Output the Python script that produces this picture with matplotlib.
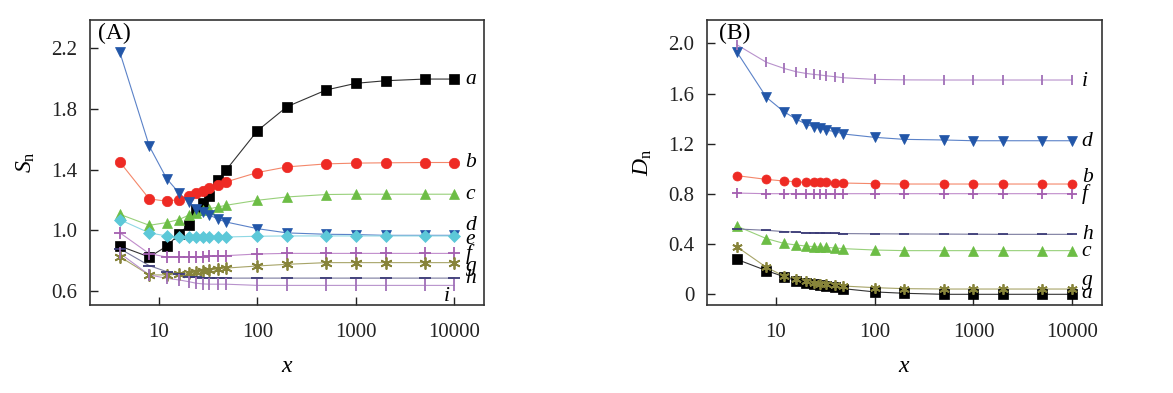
import matplotlib
matplotlib.use("Agg")
import matplotlib.pyplot as plt
from matplotlib.ticker import FixedLocator, FixedFormatter, NullLocator

plt.rcParams['font.family'] = ['Liberation Serif', 'DejaVu Serif']
plt.rcParams['mathtext.fontset'] = 'custom'
plt.rcParams['mathtext.rm'] = 'Liberation Serif'
plt.rcParams['mathtext.it'] = 'Liberation Serif:italic'

x = [4, 8, 12, 16, 20, 24, 28, 32, 40, 48, 100, 200, 500, 1000, 2000, 5000, 10000]

# panel A: S_n
sa = [0.897, 0.824, 0.895, 0.974, 1.038, 1.137, 1.181, 1.225, 1.330, 1.396, 1.656, 1.815, 1.925, 1.969, 1.986, 1.997, 1.997]
sb = [1.452, 1.207, 1.192, 1.203, 1.227, 1.247, 1.262, 1.280, 1.302, 1.319, 1.381, 1.418, 1.438, 1.443, 1.445, 1.447, 1.447]
sc = [1.106, 1.033, 1.051, 1.071, 1.099, 1.117, 1.132, 1.141, 1.154, 1.165, 1.198, 1.220, 1.236, 1.238, 1.238, 1.238, 1.238]
sd = [2.178, 1.555, 1.341, 1.247, 1.187, 1.143, 1.121, 1.104, 1.073, 1.055, 1.011, 0.983, 0.974, 0.972, 0.967, 0.967, 0.967]
se = [1.071, 0.983, 0.963, 0.956, 0.956, 0.956, 0.956, 0.956, 0.956, 0.956, 0.961, 0.963, 0.963, 0.963, 0.963, 0.963, 0.963]
sf = [0.985, 0.846, 0.824, 0.824, 0.824, 0.826, 0.827, 0.828, 0.831, 0.833, 0.844, 0.848, 0.848, 0.848, 0.848, 0.848, 0.848]
sg = [0.827, 0.706, 0.706, 0.710, 0.716, 0.725, 0.732, 0.736, 0.745, 0.751, 0.765, 0.776, 0.787, 0.787, 0.787, 0.787, 0.787]
sh = [0.880, 0.767, 0.728, 0.711, 0.695, 0.690, 0.688, 0.687, 0.686, 0.685, 0.685, 0.685, 0.685, 0.685, 0.685, 0.685, 0.685]
si = [0.850, 0.706, 0.684, 0.673, 0.662, 0.651, 0.647, 0.645, 0.645, 0.645, 0.637, 0.637, 0.637, 0.637, 0.637, 0.637, 0.637]

# panel B: D_n
da = [0.279, 0.189, 0.141, 0.109, 0.093, 0.082, 0.074, 0.069, 0.056, 0.045, 0.019, 0.008, 0.0, 0.0, 0.0, 0.0, 0.0]
db = [0.946, 0.916, 0.903, 0.898, 0.892, 0.892, 0.892, 0.892, 0.887, 0.887, 0.882, 0.879, 0.879, 0.879, 0.879, 0.879, 0.879]
dc = [0.544, 0.444, 0.406, 0.393, 0.385, 0.380, 0.377, 0.374, 0.369, 0.364, 0.353, 0.348, 0.348, 0.348, 0.348, 0.348, 0.348]
dd = [1.934, 1.570, 1.456, 1.397, 1.357, 1.336, 1.323, 1.309, 1.296, 1.278, 1.251, 1.235, 1.230, 1.224, 1.224, 1.224, 1.224]
df = [0.807, 0.802, 0.802, 0.802, 0.802, 0.802, 0.802, 0.802, 0.802, 0.802, 0.802, 0.802, 0.802, 0.802, 0.802, 0.802, 0.802]
dg = [0.380, 0.215, 0.146, 0.120, 0.104, 0.093, 0.085, 0.080, 0.072, 0.066, 0.053, 0.045, 0.042, 0.042, 0.042, 0.042, 0.042]
dh = [0.521, 0.510, 0.500, 0.495, 0.490, 0.490, 0.488, 0.487, 0.485, 0.484, 0.482, 0.481, 0.480, 0.479, 0.478, 0.478, 0.478]
di = [1.990, 1.849, 1.801, 1.774, 1.761, 1.753, 1.748, 1.742, 1.734, 1.726, 1.713, 1.709, 1.708, 1.708, 1.708, 1.708, 1.708]

# marker, marker colour, line colour
styles = {
    'a': ('s', '#000000', '#333333'),
    'b': ('o', '#ee2a24', '#f4876a'),
    'c': ('^', '#6cbd45', '#98d07a'),
    'd': ('v', '#2256a8', '#5b82c8'),
    'e': ('D', '#5cc8d8', '#8fd8e4'),
    'f': ('+', '#a45fb0', '#c08ccb'),
    'g': ((6, 2, 0), '#87843a', '#a7a468'),
    'h': ('_', '#3c3c78', '#7a7a9e'),
    'i': ('|', '#a070b8', '#b892cc'),
}
thin = ('+', '_', '|')

series_a = {'a': sa, 'b': sb, 'c': sc, 'd': sd, 'e': se, 'f': sf, 'g': sg, 'h': sh, 'i': si}
series_b = {'a': da, 'b': db, 'c': dc, 'd': dd, 'f': df, 'g': dg, 'h': dh, 'i': di}

# label positions (x, y)
labels_a = {'a': (13000, 1.997), 'b': (13000, 1.447), 'c': (13000, 1.238), 'd': (13000, 1.03),
            'e': (13000, 0.94), 'f': (13000, 0.845), 'g': (13000, 0.76), 'h': (13000, 0.68),
            'i': (7800, 0.565)}
labels_b = {'i': (12500, 1.70), 'd': (12500, 1.22), 'b': (12500, 0.93), 'f': (12500, 0.80),
            'h': (12500, 0.48), 'c': (12500, 0.345), 'g': (12500, 0.11), 'a': (12500, 0.01)}

fig = plt.figure(figsize=(11.73, 3.93), dpi=100)
axA = fig.add_axes([0.0767, 0.224, 0.336, 0.725])
axB = fig.add_axes([0.6027, 0.224, 0.3367, 0.725])


def draw(ax, series, labels, ms):
    for key, ys in series.items():
        m, mc, lc = styles[key]
        msz = ms
        if m == 'D':
            msz = ms * 0.85
        if m in thin or isinstance(m, tuple):
            msz = ms * 1.15
        ax.plot(x, ys, color=lc, lw=0.8, zorder=2)
        ax.plot(x, ys, linestyle='none', marker=m, markersize=msz, color=mc,
                markeredgecolor=mc,
                markeredgewidth=1.3 if (m in thin or isinstance(m, tuple)) else 0.5,
                zorder=3)
    for key, (lx, ly) in labels.items():
        ax.text(lx, ly, key, fontsize=15.5, style='italic', va='center', ha='left')
    ax.set_xscale('log')
    ax.set_xlim(2, 20000)
    ax.xaxis.set_major_locator(FixedLocator([10, 100, 1000, 10000]))
    ax.xaxis.set_major_formatter(FixedFormatter(['10', '100', '1000', '10000']))
    ax.xaxis.set_minor_locator(NullLocator())
    ax.tick_params(axis='both', which='major', direction='in', length=6, width=1.0,
                   labelsize=15, colors='#222222', pad=9)
    ax.tick_params(axis='x', pad=13)
    for sp in ax.spines.values():
        sp.set_linewidth(1.2)
        sp.set_color('#333333')
    ax.set_xlabel(r'$\mathit{x}$', fontsize=17, labelpad=10)


draw(axA, series_a, labels_a, 7.5)
axA.set_ylim(0.508, 2.386)
axA.set_yticks([0.6, 1.0, 1.4, 1.8, 2.2])
axA.set_yticklabels(['0.6', '1.0', '1.4', '1.8', '2.2'])
axA.set_ylabel(r'$\mathit{S}_\mathrm{n}$', fontsize=17, labelpad=10)
axA.text(0.02, 0.99, '(A)', transform=axA.transAxes, fontsize=17, va='top', ha='left')

draw(axB, series_b, labels_b, 6.5)
axB.set_ylim(-0.085, 2.186)
axB.set_yticks([0, 0.4, 0.8, 1.2, 1.6, 2.0])
axB.set_yticklabels(['0', '0.4', '0.8', '1.2', '1.6', '2.0'])
axB.set_ylabel(r'$\mathit{D}_\mathrm{n}$', fontsize=17, labelpad=10)
axB.text(0.03, 0.99, '(B)', transform=axB.transAxes, fontsize=17, va='top', ha='left')

fig.savefig('out.png', dpi=100)
